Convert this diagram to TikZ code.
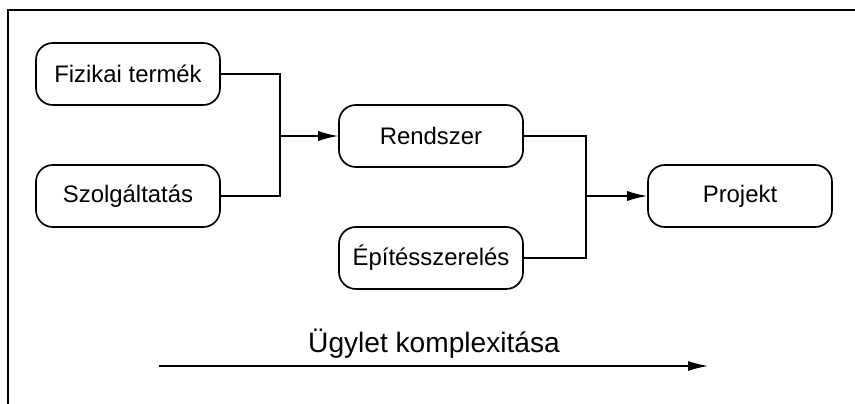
\documentclass[tikz,border=0pt]{standalone}
\usepackage{fontspec}
\setmainfont{Liberation Sans}
\usetikzlibrary{arrows.meta}

\tikzset{
  stage/.style={draw, line width=1.2pt, rounded corners=0.42cm,
                minimum width=4.6cm, minimum height=1.55cm,
                font=\fontsize{17}{20}\selectfont},
  link/.style={line width=0.9pt},
  tip/.style={-{Latex[length=0.5cm, width=0.25cm]}}
}

\begin{document}
\begin{tikzpicture}
\useasboundingbox (0, 0) rectangle (21.375, 10.1);

% frame, only top and left edge
\draw[line width=1.4pt] (0.2, 0) -- (0.2, 9.85) -- (21.375, 9.85);

% first layer
\node[stage] (fizikai) at ( 3.200, 8.25) {Fizikai termék};
\node[stage] (szolg)   at ( 3.200, 5.20) {Szolgáltatás};

% second layer
\node[stage] (rendszer) at (10.775, 6.70) {Rendszer};
\node[stage] (epites)   at (10.775, 3.65) {Építésszerelés};

% result
\node[stage] (projekt) at (18.500, 5.20) {Projekt};

\coordinate (j1) at ( 7.00, 6.70);
\coordinate (j2) at (14.65, 5.20);

\draw[link] (fizikai.east) -| (j1) |- (szolg.east);
\draw[link, tip] (j1) -- (rendszer.west);
\draw[link] (rendszer.east) -| (j2) |- (epites.east);
\draw[link, tip] (j2) -- (projekt.west);

% complexity axis
\coordinate (ax0) at ( 3.975, 0.95);
\coordinate (ax1) at (17.700, 0.95);
\draw[link, tip] (ax0) -- (ax1);
\node[anchor=base, font=\fontsize{20}{24}\selectfont] (axis) at (10.85, 1.275)
    {Ügylet komplexitása};
\end{tikzpicture}
\end{document}
